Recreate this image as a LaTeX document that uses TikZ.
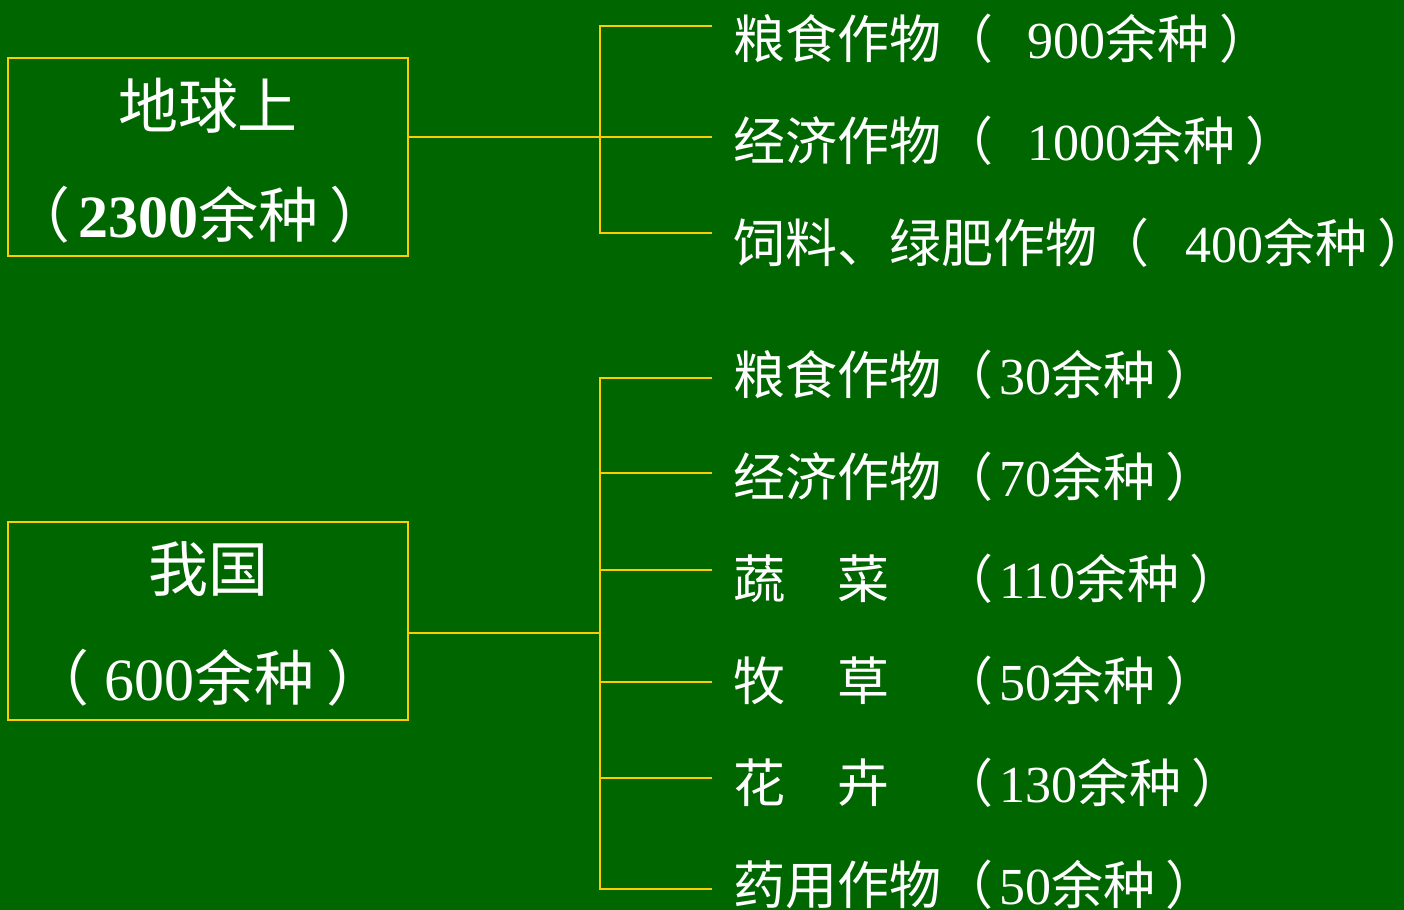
\documentclass[tikz,border=0pt]{standalone}
\usepackage{fontspec}
\setmainfont{Liberation Serif}
\newfontfamily\cjk{Noto Sans CJK SC}
\newcommand\zh[1]{{\cjk #1}}
\newcommand\rp{\hspace{5pt}\zh{）}}
\definecolor{bg}{RGB}{0,102,0}
\definecolor{ln}{RGB}{255,204,0}
\begin{document}
\begin{tikzpicture}[x=0.5pt,y=-0.5pt,
  line/.style={draw=ln,line width=1pt},
  box/.style={draw=ln,line width=1pt,minimum width=200pt,minimum height=99pt,inner sep=0pt},
  lbl/.style={anchor=base west,inner sep=0pt,text=white,font=\fontsize{26pt}{30pt}\selectfont},
  big/.style={anchor=base,inner sep=0pt,text=white,font=\fontsize{30pt}{34pt}\selectfont}]
\fill[bg] (0,0) rectangle (1404,910);
\useasboundingbox (0,0) rectangle (1404,910);
% boxes
\node[box] (b1) at (208,157) {};
\node[box] (b2) at (208,621) {};
\node[big] (t1a) at (208,128) {\zh{地球上}};
\node[big] (t1b) at (208,237) {\hspace{-8pt}\zh{（}\hspace{4pt}\textbf{2300}\zh{余种}\hspace{6pt}\zh{）}};
\node[big] (t2a) at (208,591) {\zh{我国}};
\node[big] (t2b) at (208,700) {\zh{（}\hspace{8pt}600\zh{余种}\hspace{6pt}\zh{）}};
% junctions
\coordinate (j1) at (600,137);
\coordinate (j2) at (600,633);
% upper branch ends
\coordinate (a1) at (712,26);
\coordinate (a2) at (712,137);
\coordinate (a3) at (712,233);
% lower branch ends
\coordinate (c1) at (712,378);
\coordinate (c2) at (712,473);
\coordinate (c3) at (712,570);
\coordinate (c4) at (712,682);
\coordinate (c5) at (712,778);
\coordinate (c6) at (712,889);
% labels
\node[lbl] (l1) at (733,58) {\zh{粮食作物（}\hspace{17pt}900\zh{余种}\rp};
\node[lbl] (l2) at (733,160) {\zh{经济作物（}\hspace{17pt}1000\zh{余种}\rp};
\node[lbl] (l3) at (733,262) {\zh{饲料、绿肥作物（}\hspace{18pt}400\zh{余种}\rp};
\node[lbl] (m1) at (733,394) {\zh{粮食作物（}\hspace{3pt}30\zh{余种}\rp};
\node[lbl] (m2) at (733,496) {\zh{经济作物（}\hspace{3pt}70\zh{余种}\rp};
\node[lbl] (m3) at (733,598) {\zh{蔬　菜　（}\hspace{3pt}110\zh{余种}\rp};
\node[lbl] (m4) at (733,700) {\zh{牧　草　（}\hspace{3pt}50\zh{余种}\rp};
\node[lbl] (m5) at (733,802) {\zh{花　卉　（}\hspace{3pt}130\zh{余种}\rp};
\node[lbl] (m6) at (733,904) {\zh{药用作物（}\hspace{3pt}50\zh{余种}\rp};
% connectors
\draw[line] (b1.east |- j1) -- (a2);
\draw[line] (a1) -| (j1) |- (a3);
\draw[line] (b2.east |- j2) -- (j2);
\draw[line] (c1) -| (j2) |- (c6);
\draw[line] (c2) -- (c2 -| j2);
\draw[line] (c3) -- (c3 -| j2);
\draw[line] (c4) -- (c4 -| j2);
\draw[line] (c5) -- (c5 -| j2);
\end{tikzpicture}
\end{document}
